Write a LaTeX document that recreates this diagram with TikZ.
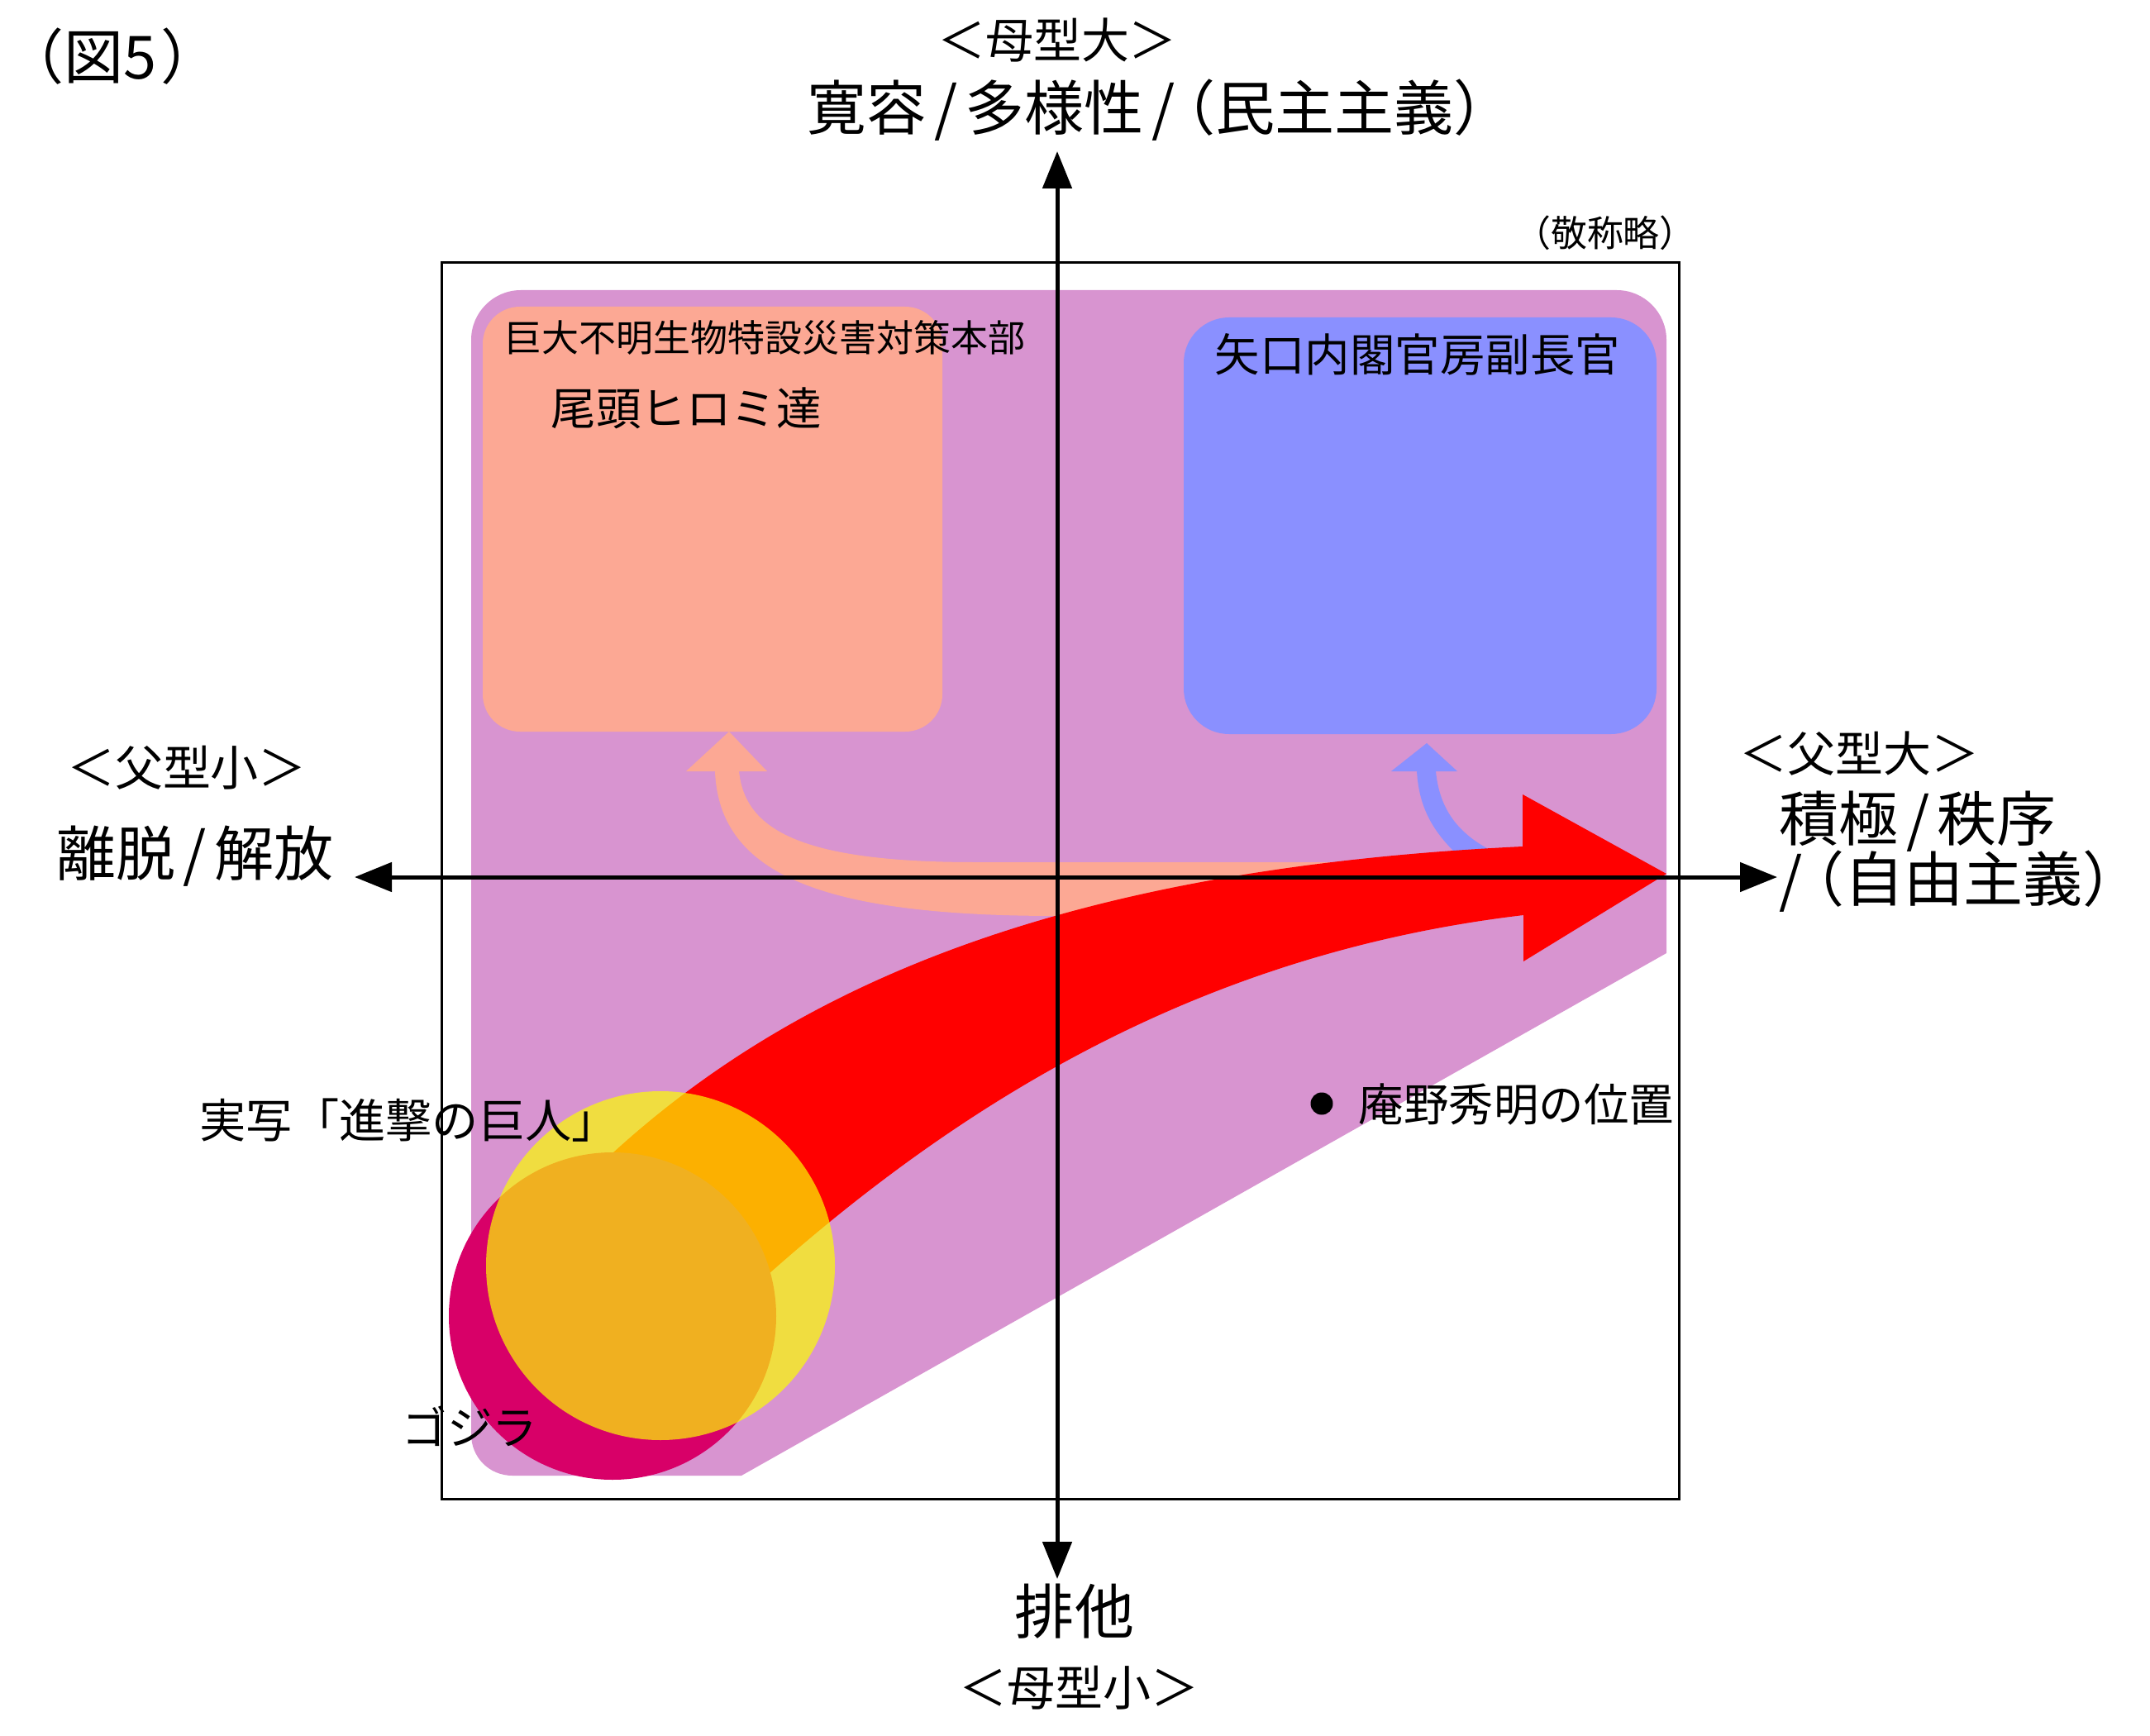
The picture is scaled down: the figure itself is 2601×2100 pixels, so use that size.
\documentclass[tikz,border=0pt]{standalone}
\usepackage{fontspec}
\setmainfont{Noto Sans CJK JP}
\usetikzlibrary{arrows.meta}
\definecolor{zonepurple}{RGB}{216,148,208}
\definecolor{bosalmon}{RGB}{252,168,148}
\definecolor{yaguchiblue}{RGB}{138,144,255}
\definecolor{godzillared}{RGB}{216,0,104}
\definecolor{titanyellow}{RGB}{252,255,0}
\newcommand{\slashsep}{\kern.13em/\kern.13em}
\begin{document}
\begin{tikzpicture}[x=0.1mm,y=-0.1mm,
  big/.style={inner sep=0,font=\fontsize{20.5}{24}\selectfont},
  mid/.style={inner sep=0,font=\fontsize{15.5}{18}\selectfont},
  tag/.style={inner sep=0,font=\fontsize{16.5}{19}\selectfont},
  small/.style={inner sep=0,font=\fontsize{12.5}{15}\selectfont},
  axis/.style={line width=0.5mm,{Triangle[length=4.5mm,width=3.5mm]}-{Triangle[length=4.5mm,width=3.5mm]}}]
\useasboundingbox (0,0) rectangle (2601,2100);
\fill[white] (0,0) rectangle (2601,2100);
\draw[line width=0.3mm] (534,318) rectangle (2031,1813);
\fill[zonepurple] (2016,1153) -- (897,1785) -- (620,1785) .. controls (592,1785) and (570,1763) .. (570,1735)
  -- (570,411) .. controls (570,378) and (597,351) .. (630,351) -- (1956,351)
  .. controls (1989,351) and (2016,378) .. (2016,411) -- cycle;
\fill[bosalmon,rounded corners=4.5mm] (584,371) rectangle (1140,885);
\fill[yaguchiblue,rounded corners=5.5mm] (1432,384) rectangle (2004,888);
\fill[bosalmon] (1680,1043) -- (1180,1043) .. controls (960,1043) and (901,1000) .. (894,933)
  -- (928,933) -- (882,885) -- (830,933) -- (865,933)
  .. controls (870,1060) and (1000,1108) .. (1279,1108) -- (1680,1108) -- cycle;
\fill[yaguchiblue] (1737,933) .. controls (1742,985) and (1770,1018) .. (1830,1040)
  -- (1775,1045) .. controls (1735,1010) and (1717,980) .. (1714,933)
  -- (1683,933) -- (1726,899) -- (1763,933) -- cycle;
\fill[red] (700,1470) -- (741,1395) .. controls (972,1184) and (1300,1050) .. (1842,1024)
  -- (1842,961) -- (2016,1057) -- (1843,1163) -- (1843,1107)
  .. controls (1480,1150) and (1190,1310) .. (930,1541) -- (860,1610) -- cycle;
\fill[godzillared] (741,1592) circle[radius=19.8mm];
\fill[titanyellow,opacity=0.69] (799,1531) circle[radius=21.1mm];
\coordinate (top) at (1279,183);
\coordinate (bottom) at (1279,1910);
\coordinate (left) at (429,1061);
\coordinate (right) at (2150,1061);
\draw[axis] (bottom) -- (top);
\draw[axis] (left) -- (right);
\node[big] (fig) at (136,68) {（図5\kern.08em）};
\node[tag] (mbig) at (1279,49) {＜母型大＞};
\node[big,anchor=west] (tolerance) at (976,133) {寛容\slashsep 多様性\slashsep\kern-.45em（民主主義）};
\node[small] (honor) at (1942,282) {（敬称略）};
\node[tag] (fsmall) at (226,929) {＜父型小＞};
\node[big] (escape) at (236,1036) {離脱\slashsep 解放};
\node[tag] (flarge) at (2249,912) {＜父型大＞};
\node[big,anchor=west] (active) at (2152,994) {積極\slashsep 秩序};
\node[big,anchor=west] (liberal) at (2152,1066) {/\kern-.3em（自由主義）\kern-.45em};
\node[big] (exclude) at (1300,1949) {排他};
\node[tag] (msmall) at (1305,2042) {＜母型小＞};
\node[small,anchor=west,font=\fontsize{12.8}{15}\selectfont] (hq) at (610,408) {巨大不明生物特設災害対策本部};
\node[mid,anchor=west] (ogashira) at (666,494) {尾頭ヒロミ達};
\node[mid,anchor=west] (yaguchi) at (1469,429) {矢口内閣官房副長官};
\node[mid,anchor=west,font=\fontsize{16}{18}\selectfont] (titan) at (241,1355) {実写「進撃の巨人」};
\node[mid,anchor=west] (godzilla) at (486,1725) {ゴジラ};
\fill (1599,1335) circle[radius=1.35mm];
\node[mid,anchor=west] (anno) at (1643,1336) {庵野秀明の位置};
\end{tikzpicture}
\end{document}
